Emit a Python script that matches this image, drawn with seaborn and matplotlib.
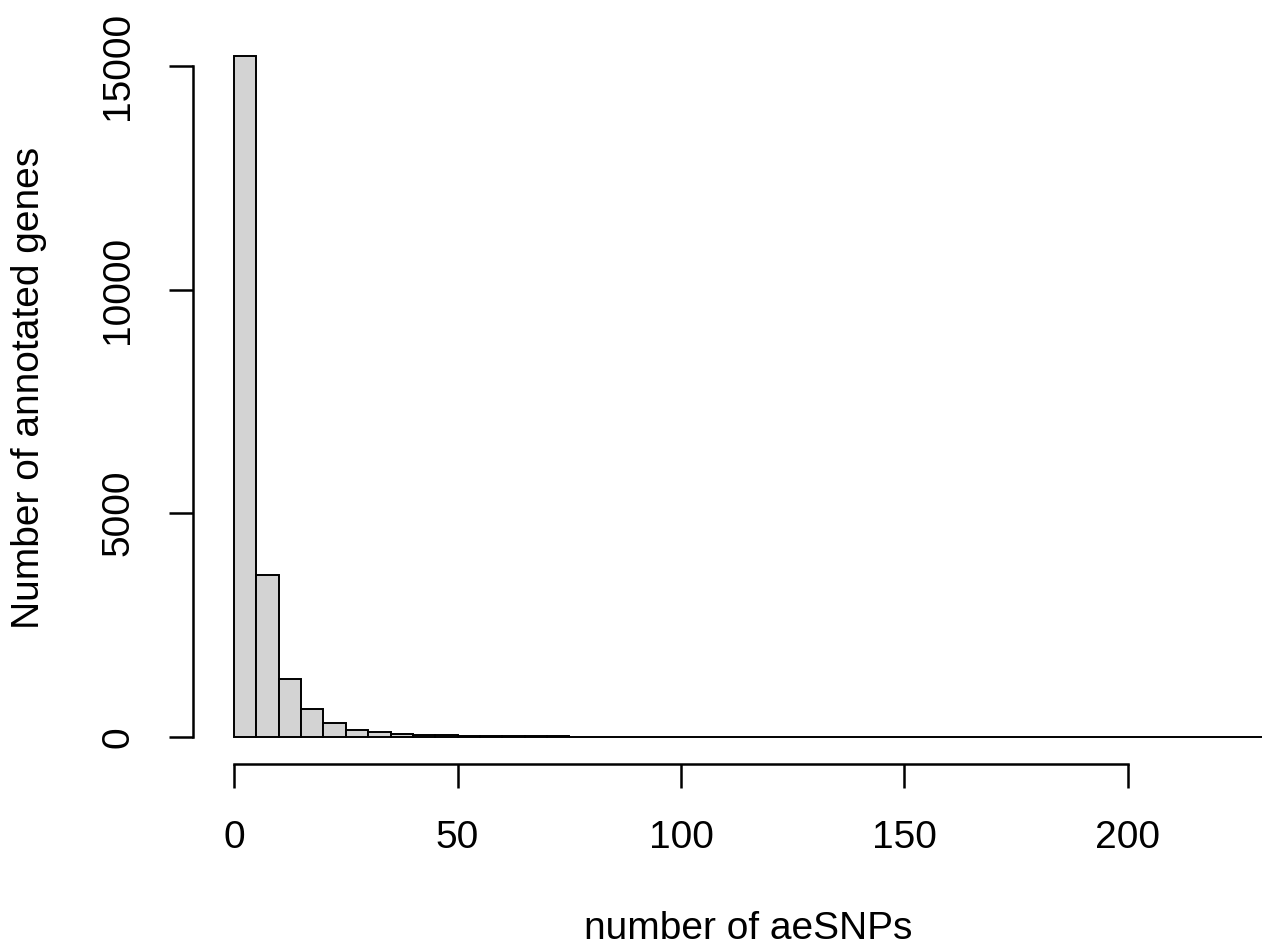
import numpy as np
import pandas as pd
import matplotlib
matplotlib.use("Agg")
import matplotlib.pyplot as plt
import seaborn as sns

# Histogram of aeSNP counts per gene, bins of width 5 from 0 to 230
bin_edges = list(range(0, 235, 5))
gene_counts = [15220, 3610, 1297, 615, 300, 145, 112, 67, 38, 35,
               22, 20, 15, 12, 8, 6, 5, 4, 4, 3,
               3, 2, 2, 2, 1, 1, 1, 1, 1, 1,
               1, 1, 0, 1, 0, 1, 0, 0, 1, 0,
               0, 0, 1, 0, 0, 1]
x_ticks = [0, 50, 100, 150, 200]
y_ticks = [0, 5000, 10000, 15000]
x_label = "number of aeSNPs"
y_label = "Number of annotated genes"

mids = [(a + b) / 2 for a, b in zip(bin_edges[:-1], bin_edges[1:])]
df = pd.DataFrame({"snps": mids, "genes": gene_counts})

sns.set_theme(style="white")
plt.rcParams["font.family"] = ["Liberation Sans", "DejaVu Sans"]

FS = 28
W, H = 1264, 951
fig = plt.figure(figsize=(W / 100, H / 100), dpi=100)
left, right, top, bottom = 193, 1303, 29, 764
ax = fig.add_axes([left / W, 1 - bottom / H, (right - left) / W, (bottom - top) / H])

sns.histplot(data=df, x="snps", weights="genes", bins=bin_edges,
             color="#D3D3D3", edgecolor="black", linewidth=1.4,
             alpha=1, ax=ax)

xmin, xmax = bin_edges[0], bin_edges[-1]
ymax = max(gene_counts)
ax.set_xlim(xmin - 0.04 * (xmax - xmin), xmax + 0.04 * (xmax - xmin))
ax.set_ylim(-0.04 * ymax, 1.04 * ymax)

for s in ["top", "right"]:
    ax.spines[s].set_visible(False)
ax.spines["left"].set_bounds(y_ticks[0], y_ticks[-1])
ax.spines["bottom"].set_bounds(x_ticks[0], x_ticks[-1])
for s in ["left", "bottom"]:
    ax.spines[s].set_linewidth(1.8)
    ax.spines[s].set_color("black")

ax.set_xticks(x_ticks)
ax.set_xticklabels([str(t) for t in x_ticks])
ax.set_yticks(y_ticks)
ax.set_yticklabels([str(t) for t in y_ticks], rotation=90, va="center")
ax.tick_params(axis="both", which="major", direction="out", length=17,
               width=1.8, color="black", labelsize=FS, labelcolor="black",
               bottom=True, left=True)
ax.tick_params(axis="x", pad=23)
ax.tick_params(axis="y", pad=24)

ax.set_xlabel(x_label, fontsize=FS, color="black", va="baseline")
ax.xaxis.set_label_coords(0.5, (bottom - 939) / (bottom - top))
ax.set_ylabel(y_label, fontsize=FS, color="black", va="center")
ax.yaxis.set_label_coords((29 - left) / (right - left), 0.5 + ((bottom + top) / 2 - 388) / (bottom - top))

fig.savefig("out.png", dpi=100)
